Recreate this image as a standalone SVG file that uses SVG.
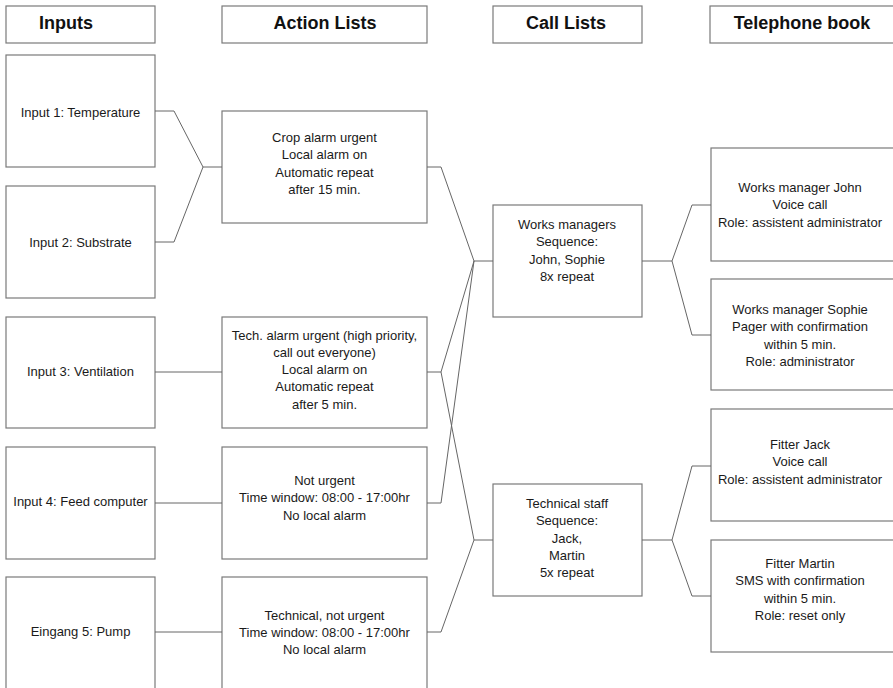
<svg xmlns="http://www.w3.org/2000/svg" width="893" height="688" viewBox="0 0 893 688">
<style>
.box{fill:#fff;stroke:#7a7a7a;stroke-width:1.2}
.hd{font-family:"Liberation Sans",Arial,sans-serif;font-weight:bold;font-size:18px;fill:#111;text-anchor:middle}
.t{font-family:"Liberation Sans",Arial,sans-serif;font-size:13px;fill:#1a1a1a;text-anchor:middle}
.con path{fill:none;stroke:#666;stroke-width:1}
</style>
<rect width="893" height="688" fill="#fff"/>
<g id="hdr-inputs"><rect class="box" x="6" y="6" width="149" height="37"/><text class="hd" x="66" y="28.5">Inputs</text></g>
<g id="hdr-actions"><rect class="box" x="222" y="6" width="205" height="37"/><text class="hd" x="325" y="28.5">Action Lists</text></g>
<g id="hdr-calls"><rect class="box" x="493" y="6" width="149" height="37"/><text class="hd" x="566" y="28.5">Call Lists</text></g>
<g id="hdr-phone"><rect class="box" x="710" y="6" width="200" height="37"/><text class="hd" x="802" y="28.5">Telephone book</text></g>

<g id="input1"><rect class="box" x="6" y="55" width="149" height="112"/><text class="t" x="80.5" y="117">Input 1: Temperature</text></g>
<g id="input2"><rect class="box" x="6" y="186" width="149" height="112"/><text class="t" x="80.5" y="246.5">Input 2: Substrate</text></g>
<g id="input3"><rect class="box" x="6" y="317" width="149" height="111"/><text class="t" x="80.5" y="375.5">Input 3: Ventilation</text></g>
<g id="input4"><rect class="box" x="6" y="447" width="149" height="112"/><text class="t" x="80.5" y="505.5">Input 4: Feed computer</text></g>
<g id="input5"><rect class="box" x="6" y="577" width="149" height="120"/><text class="t" x="80.5" y="635.5">Eingang 5: Pump</text></g>

<g id="action1"><rect class="box" x="222" y="111" width="205" height="112"/><text class="t"><tspan x="324.5" y="141.5">Crop alarm urgent</tspan><tspan x="324.5" y="159">Local alarm on</tspan><tspan x="324.5" y="176.5">Automatic repeat</tspan><tspan x="324.5" y="194">after 15 min.</tspan></text></g>
<g id="action2"><rect class="box" x="222" y="317" width="205" height="111"/><text class="t"><tspan x="324.5" y="339.5">Tech. alarm urgent (high priority,</tspan><tspan x="324.5" y="356.8">call out everyone)</tspan><tspan x="324.5" y="374.1">Local alarm on</tspan><tspan x="324.5" y="391.4">Automatic repeat</tspan><tspan x="324.5" y="408.7">after 5 min.</tspan></text></g>
<g id="action3"><rect class="box" x="222" y="447" width="205" height="112"/><text class="t"><tspan x="324.5" y="484.5">Not urgent</tspan><tspan x="324.5" y="502">Time window: 08:00 - 17:00hr</tspan><tspan x="324.5" y="519.5">No local alarm</tspan></text></g>
<g id="action4"><rect class="box" x="222" y="577" width="205" height="120"/><text class="t"><tspan x="324.5" y="619.5">Technical, not urgent</tspan><tspan x="324.5" y="636.5">Time window: 08:00 - 17:00hr</tspan><tspan x="324.5" y="653.5">No local alarm</tspan></text></g>

<g id="call-managers"><rect class="box" x="493" y="205" width="149" height="112"/><text class="t"><tspan x="567" y="228.5">Works managers</tspan><tspan x="567" y="246">Sequence:</tspan><tspan x="567" y="263.5">John, Sophie</tspan><tspan x="567" y="281">8x repeat</tspan></text></g>
<g id="call-technical"><rect class="box" x="493" y="484" width="149" height="112"/><text class="t"><tspan x="567" y="507.5">Technical staff</tspan><tspan x="567" y="525">Sequence:</tspan><tspan x="567" y="542.5">Jack,</tspan><tspan x="567" y="560">Martin</tspan><tspan x="567" y="577">5x repeat</tspan></text></g>

<g id="phone-john"><rect class="box" x="711" y="148" width="200" height="113"/><text class="t"><tspan x="800" y="191.5">Works manager John</tspan><tspan x="800" y="209">Voice call</tspan><tspan x="800" y="226.5">Role: assistent administrator</tspan></text></g>
<g id="phone-sophie"><rect class="box" x="711" y="279" width="200" height="111"/><text class="t"><tspan x="800" y="313.5">Works manager Sophie</tspan><tspan x="800" y="331">Pager with confirmation</tspan><tspan x="800" y="348.5">within 5 min.</tspan><tspan x="800" y="366">Role: administrator</tspan></text></g>
<g id="phone-jack"><rect class="box" x="711" y="409" width="200" height="112"/><text class="t"><tspan x="800" y="448.5">Fitter Jack</tspan><tspan x="800" y="466">Voice call</tspan><tspan x="800" y="483.5">Role: assistent administrator</tspan></text></g>
<g id="phone-martin"><rect class="box" x="711" y="540" width="200" height="112"/><text class="t"><tspan x="800" y="567.5">Fitter Martin</tspan><tspan x="800" y="585">SMS with confirmation</tspan><tspan x="800" y="602.5">within 5 min.</tspan><tspan x="800" y="620">Role: reset only</tspan></text></g>

<g id="connectors" class="con">
<path d="M155,111 H174 L203,167 H222"/>
<path d="M155,242 H174 L203,167"/>
<path d="M155,372 H222"/>
<path d="M155,503 H222"/>
<path d="M155,632 H222"/>
<path d="M427,167 H441 L474,261 H493"/>
<path d="M427,372 H441 L474,261"/>
<path d="M441,372 L474,540 H493"/>
<path d="M427,503 H441 L474,261"/>
<path d="M427,632 H441 L474,540"/>
<path d="M642,261 H672 L692,205 H711"/>
<path d="M672,261 L692,335 H711"/>
<path d="M642,540 H672 L692,466 H711"/>
<path d="M672,540 L692,596 H711"/>
</g>
</svg>
